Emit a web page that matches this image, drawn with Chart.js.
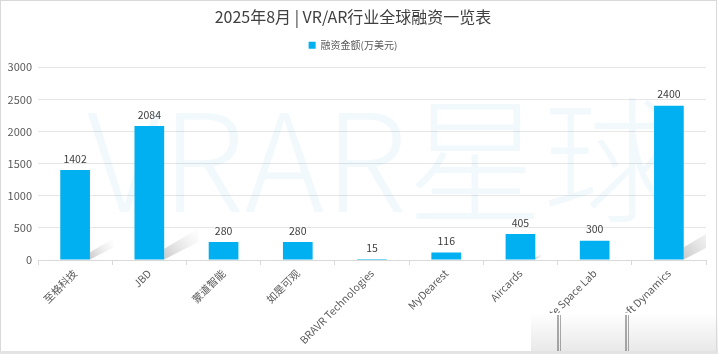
<!DOCTYPE html>
<html lang="zh">
<head>
<meta charset="UTF-8">
<title>2025年8月 VR/AR行业全球融资一览表</title>
<script src="https://cdn.jsdelivr.net/npm/chart.js"></script>
<style>
    body { margin: 0; background: #fff; }
    #wrap { width: 718px; height: 354px; position: relative; }
</style>
</head>
<body>
<div id="wrap"><canvas id="chart" width="718" height="354"></canvas></div>
<script>
const titleText = '2025年8月 | VR/AR行业全球融资一览表';
const seriesName = '融资金额(万美元)';
const companies = ['至格科技', 'JBD', '蒙道智能', '如是可观', 'BRAVR Technologies', 'MyDearest', 'Aircards', 'Infinite Space Lab', 'Xsoft Dynamics'];
const amounts = [1402, 2084, 280, 280, 15, 116, 405, 300, 2400];
const yTicks = [0, 500, 1000, 1500, 2000, 2500, 3000];

const FONT = "'Noto Sans CJK SC', 'Noto Sans', sans-serif";
const BAR = '#00b0f0';

// a bit more room under the legend
const legendGap = {
    id: 'legendGap',
    beforeInit(chart) {
        const lg = chart.legend;
        if (!lg) return;
        const fit = lg.fit;
        lg.fit = function () {
            fit.call(this);
            this.height += 7;
        };
    }
};

// big pale watermark behind the bars
const watermark = {
    id: 'watermark',
    beforeDatasetsDraw(chart) {
        const c = chart.ctx;
        c.save();
        c.font = '300 136px ' + FONT;
        c.fillStyle = 'rgba(0,140,220,0.055)';
        c.textAlign = 'center';
        c.textBaseline = 'middle';
        c.fillText('VRAR星球', 383, 160);
        c.restore();
    }
};

// soft grey shadows to the right of some bars
const shadows = {
    id: 'shadows',
    beforeDatasetsDraw(chart) {
        const c = chart.ctx;
        const meta = chart.getDatasetMeta(0);
        const area = chart.chartArea;
        c.save();
        c.beginPath();
        c.rect(area.left, area.top, area.right - area.left, area.bottom - area.top);
        c.clip();
        meta.data.forEach(bar => {
            const h = bar.base - bar.y;
            if (h < 20) return;
            const xr = bar.x + bar.width / 2;
            const len = h * 0.32;
            const dx = len * 0.8, dy = len * 0.6;
            const g = c.createLinearGradient(xr, bar.base, xr + dx, bar.base - dy);
            g.addColorStop(0, 'rgba(120,120,120,0.4)');
            g.addColorStop(1, 'rgba(200,200,200,0.05)');
            c.fillStyle = g;
            c.beginPath();
            c.moveTo(xr, bar.base);
            c.lineTo(xr, bar.base - h * 0.08);
            c.lineTo(xr + dx, bar.base - dy - h * 0.04);
            c.lineTo(xr + dx, bar.base - dy + h * 0.06);
            c.closePath();
            c.fill();
        });
        c.restore();
    }
};

// value labels above bars
const valueLabels = {
    id: 'valueLabels',
    afterDatasetsDraw(chart) {
        const c = chart.ctx;
        const meta = chart.getDatasetMeta(0);
        c.save();
        c.font = '10.5px ' + FONT;
        c.fillStyle = '#404040';
        c.textAlign = 'center';
        c.textBaseline = 'bottom';
        meta.data.forEach((bar, i) => {
            c.fillText(String(amounts[i]), bar.x, bar.y - 6);
        });
        c.restore();
    }
};

// frame and the washed-out corner at bottom right
const frame = {
    id: 'frame',
    afterDraw(chart) {
        const c = chart.ctx;
        c.save();
        const g = c.createLinearGradient(0, 313, 0, 352);
        g.addColorStop(0, 'rgba(255,255,255,1)');
        g.addColorStop(1, 'rgba(232,232,232,1)');
        c.fillStyle = g;
        c.fillRect(531, 313, 187, 40);
        c.fillStyle = 'rgba(90,90,90,0.5)';
        c.fillRect(557, 315, 2, 37);
        c.fillRect(560, 315, 1, 37);
        c.fillRect(625, 315, 2, 37);
        c.fillRect(628, 315, 1, 37);
        c.strokeStyle = '#d9d9d9';
        c.lineWidth = 1;
        c.strokeRect(0.5, 0.5, 716, 351);
        c.fillStyle = '#e3e3e3';
        c.fillRect(0, 351, 718, 3);
        c.restore();
    }
};

new Chart(document.getElementById('chart'), {
    type: 'bar',
    data: {
        labels: companies,
        datasets: [{
            label: seriesName,
            data: amounts,
            backgroundColor: BAR,
            borderWidth: 0,
            barPercentage: 0.4,
            categoryPercentage: 1
        }]
    },
    options: {
        responsive: false,
        animation: false,
        layout: { padding: { left: 0, right: 12, top: 0, bottom: 0 } },
        plugins: {
            title: {
                display: true,
                text: titleText,
                color: '#404040',
                font: { family: FONT, size: 16, weight: 'normal' },
                padding: { top: 7, bottom: 6 }
            },
            legend: {
                labels: {
                    boxWidth: 7,
                    boxHeight: 7,
                    color: '#595959',
                    font: { family: FONT, size: 10 },
                    padding: 8
                }
            },
            tooltip: { enabled: false }
        },
        scales: {
            x: {
                grid: {
                    display: true,
                    offset: true,
                    drawOnChartArea: false,
                    drawTicks: true,
                    tickLength: 5,
                    color: '#d9d9d9'
                },
                border: { color: '#d9d9d9' },
                ticks: {
                    color: '#595959',
                    font: { family: FONT, size: 10.5 },
                    maxRotation: 45,
                    minRotation: 45,
                    autoSkip: false,
                    padding: 2
                },
                afterFit(scale) { scale.height = 94; }
            },
            y: {
                min: 0,
                max: 3000,
                afterBuildTicks(scale) { scale.ticks = yTicks.map(v => ({ value: v })); },
                grid: { color: '#e6e6e6', drawTicks: false },
                border: { display: false },
                ticks: {
                    color: '#595959',
                    font: { family: FONT, size: 11 },
                    padding: 6,
                    callback: v => String(v)
                },
                afterFit(scale) { scale.width = 38; }
            }
        }
    },
    plugins: [legendGap, watermark, shadows, valueLabels, frame]
});
</script>
</body>
</html>
